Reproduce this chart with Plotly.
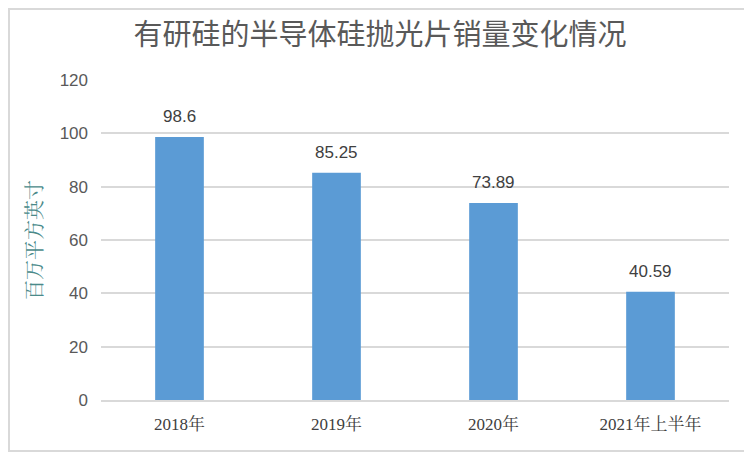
import plotly.graph_objects as go

categories = ["2018年", "2019年", "2020年", "2021年上半年"]
sales = [98.6, 85.25, 73.89, 40.59]
value_labels = ["98.6", "85.25", "73.89", "40.59"]
y_ticks = [0, 20, 40, 60, 80, 100, 120]

# page body has an 8px margin, so the figure is a bit smaller than the window
W, H = 744, 444
margin = dict(l=93, r=23, t=72, b=52)
pw = W - margin["l"] - margin["r"]
ph = H - margin["t"] - margin["b"]

fig = go.Figure()
fig.add_trace(go.Bar(
    x=categories,
    y=sales,
    marker=dict(color="#5B9BD5", line=dict(width=0)),
    hoverinfo="x+y",
))

# value labels above the bars
for cat, val, lab in zip(categories, sales, value_labels):
    fig.add_annotation(
        x=cat, y=val, text=lab,
        showarrow=False,
        yanchor="bottom",
        yshift=9,
        font=dict(size=17, color="#404040", family="Liberation Sans"),
    )

fig.update_layout(
    width=W,
    height=H,
    margin=margin,
    paper_bgcolor="white",
    plot_bgcolor="white",
    bargap=0.69,
    showlegend=False,
    title=dict(
        text="有研硅的半导体硅抛光片销量变化情况",
        x=0.5,
        xanchor="center",
        y=1 - 27 / H,
        yanchor="middle",
        font=dict(size=29, color="#595959", family="Noto Sans CJK SC"),
    ),
    xaxis=dict(
        showgrid=False,
        showline=True,
        linecolor="#d9d9d9",
        linewidth=1.5,
        ticks="",
        ticklabelstandoff=8,
        tickfont=dict(size=17, color="#404040", family="Liberation Serif, Noto Serif CJK SC, Noto Sans CJK SC"),
    ),
    yaxis=dict(
        range=[0, 120],
        tickvals=y_ticks,
        showgrid=True,
        gridcolor="#d9d9d9",
        gridwidth=1.5,
        zeroline=False,
        showline=False,
        ticks="",
        ticklabelstandoff=12,
        tickfont=dict(size=17, color="#595959", family="Liberation Sans"),
        title=dict(
            text="百万平方英寸",
            standoff=11,
            font=dict(size=20, color="#4a8a8a", family="Noto Serif CJK SC, Noto Sans CJK SC"),
        ),
    ),
    # light gray frame around the whole chart
    shapes=[dict(
        type="rect",
        xref="paper", yref="paper",
        x0=-(margin["l"] - 1) / pw, x1=1 + (margin["r"] - 1) / pw,
        y0=-(margin["b"] - 1) / ph, y1=1 + (margin["t"] - 1) / ph,
        line=dict(color="#d9d9d9", width=2),
        layer="below",
    )],
)

fig.write_html("out.html")
